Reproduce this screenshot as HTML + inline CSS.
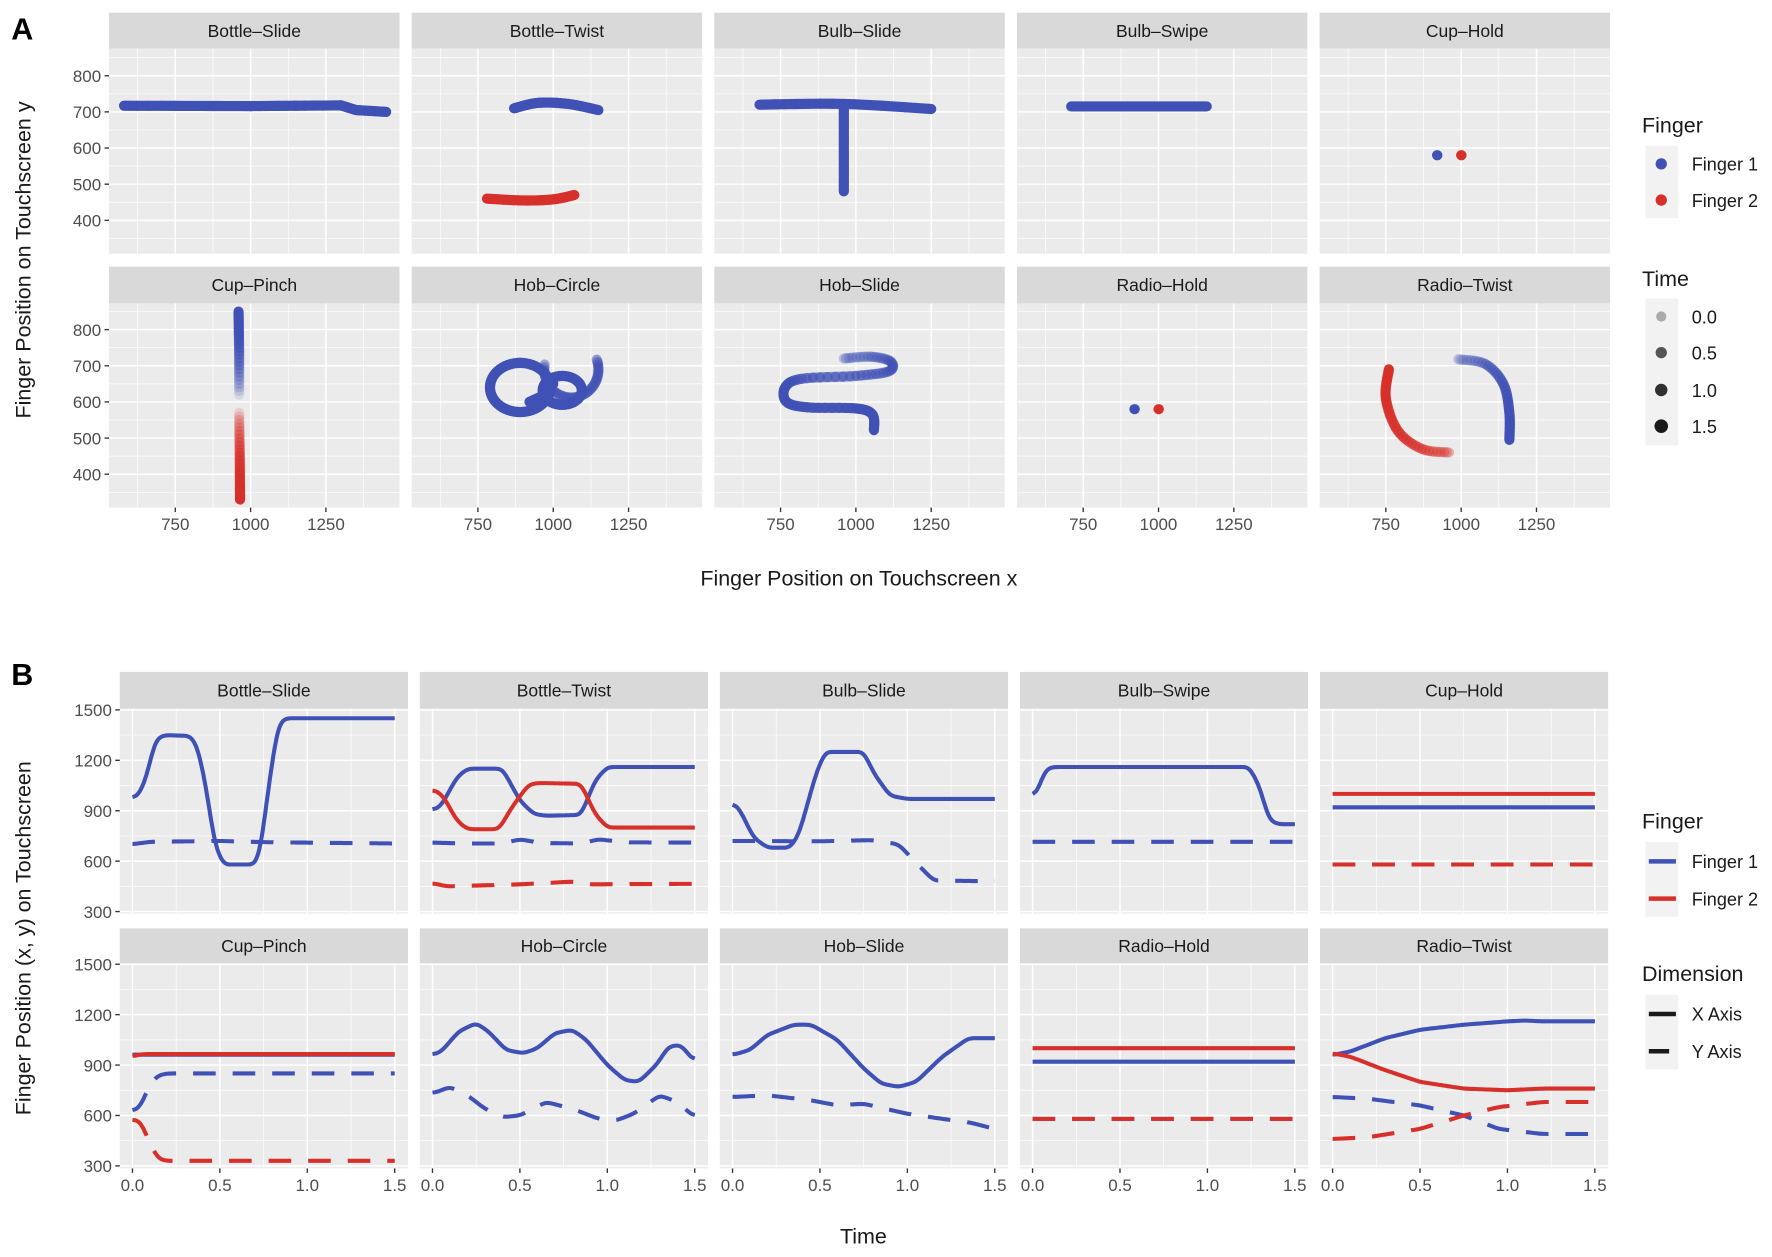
<!DOCTYPE html>
<html><head><meta charset="utf-8"><style>
html,body{margin:0;padding:0;background:#fff;}
svg{display:block;}
text{font-family:"Liberation Sans",Arial,sans-serif;}
</style></head><body>
<svg id="s" width="1772" height="1257" viewBox="0 0 1568 1112" preserveAspectRatio="none" xmlns="http://www.w3.org/2000/svg">
<rect x="0" y="0" width="1568" height="1112" fill="#fff"/>
<text x="10" y="35" font-size="27" font-weight="bold" fill="#000">A</text>
<text x="10" y="606" font-size="27" font-weight="bold" fill="#000">B</text>
<text x="760" y="518" font-size="19" fill="#1a1a1a" text-anchor="middle">Finger Position on Touchscreen x</text>
<text transform="translate(27,230) rotate(-90)" font-size="19" fill="#1a1a1a" text-anchor="middle">Finger Position on Touchscreen y</text>
<text x="764" y="1100" font-size="19" fill="#1a1a1a" text-anchor="middle">Time</text>
<text transform="translate(27,830) rotate(-90)" font-size="19" fill="#1a1a1a" text-anchor="middle">Finger Position (x, y) on Touchscreen</text>
<g id="g"></g>
<!-- Legend A -->
<text x="1453" y="117" font-size="19" fill="#1a1a1a">Finger</text>
<rect x="1456" y="129" width="29" height="64" fill="#f2f2f2"/>
<circle cx="1470" cy="145" r="5" fill="#4051b5"/>
<circle cx="1470" cy="177" r="5" fill="#d7302a"/>
<text x="1497" y="151" font-size="16" fill="#1a1a1a">Finger 1</text>
<text x="1497" y="183" font-size="16" fill="#1a1a1a">Finger 2</text>
<text x="1453" y="253" font-size="19" fill="#1a1a1a">Time</text>
<rect x="1456" y="264" width="29" height="130" fill="#f2f2f2"/>
<circle cx="1470" cy="280" r="4.5" fill="#aaaaaa"/>
<circle cx="1470" cy="312" r="5" fill="#555555"/>
<circle cx="1470" cy="345" r="5.5" fill="#303030"/>
<circle cx="1470" cy="377" r="6" fill="#1a1a1a"/>
<text x="1497" y="286" font-size="16" fill="#1a1a1a">0.0</text>
<text x="1497" y="318" font-size="16" fill="#1a1a1a">0.5</text>
<text x="1497" y="351" font-size="16" fill="#1a1a1a">1.0</text>
<text x="1497" y="383" font-size="16" fill="#1a1a1a">1.5</text>
<!-- Legend B -->
<text x="1453" y="733" font-size="19" fill="#1a1a1a">Finger</text>
<rect x="1456" y="745" width="29" height="66" fill="#f2f2f2"/>
<line x1="1459" y1="762" x2="1483" y2="762" stroke="#4051b5" stroke-width="4"/>
<line x1="1459" y1="795" x2="1483" y2="795" stroke="#d7302a" stroke-width="4"/>
<text x="1497" y="768" font-size="16" fill="#1a1a1a">Finger 1</text>
<text x="1497" y="801" font-size="16" fill="#1a1a1a">Finger 2</text>
<text x="1453" y="868" font-size="19" fill="#1a1a1a">Dimension</text>
<rect x="1456" y="880" width="29" height="66" fill="#f2f2f2"/>
<line x1="1459" y1="897" x2="1483" y2="897" stroke="#1a1a1a" stroke-width="4"/>
<line x1="1459" y1="930" x2="1477" y2="930" stroke="#1a1a1a" stroke-width="4"/>
<text x="1497" y="903" font-size="16" fill="#1a1a1a">X Axis</text>
<text x="1497" y="936" font-size="16" fill="#1a1a1a">Y Axis</text>
</svg>
<script>
var NS="http://www.w3.org/2000/svg",G=document.getElementById("g");
var BLUE="#4051b5",RED="#d7302a";
function el(t,a,txt){var e=document.createElementNS(NS,t);for(var k in a)e.setAttribute(k,a[k]);if(txt!==undefined)e.textContent=txt;G.appendChild(e);return e;}
var names=["Bottle\u2013Slide","Bottle\u2013Twist","Bulb\u2013Slide","Bulb\u2013Swipe","Cup\u2013Hold","Cup\u2013Pinch","Hob\u2013Circle","Hob\u2013Slide","Radio\u2013Hold","Radio\u2013Twist"];
function frame(L,stripTop,stripBot,panBot,W,xmaj,xmin,ymaj,ymin,fx,fy,showY,showX,name,ylabfmt,xlabfmt){
 el("rect",{x:L,y:stripTop,width:W,height:stripBot-stripTop,fill:"#d9d9d9"});
 el("text",{x:L+W/2,y:(stripTop+stripBot)/2+5.5,"font-size":15.5,fill:"#1a1a1a","text-anchor":"middle"},name);
 el("rect",{x:L,y:stripBot,width:W,height:panBot-stripBot,fill:"#ebebeb"});
 xmin.forEach(function(v){var x=fx(v);el("line",{x1:x,y1:stripBot,x2:x,y2:panBot,stroke:"#fff","stroke-width":0.6});});
 ymin.forEach(function(v){var y=fy(v);el("line",{x1:L,y1:y,x2:L+W,y2:y,stroke:"#fff","stroke-width":0.6});});
 xmaj.forEach(function(v){var x=fx(v);el("line",{x1:x,y1:stripBot,x2:x,y2:panBot,stroke:"#fff","stroke-width":1.3});
   if(showX){el("line",{x1:x,y1:panBot,x2:x,y2:panBot+4,stroke:"#333","stroke-width":1.2});
   el("text",{x:x,y:panBot+20,"font-size":15,fill:"#4d4d4d","text-anchor":"middle"},xlabfmt(v));}});
 ymaj.forEach(function(v){var y=fy(v);el("line",{x1:L,y1:y,x2:L+W,y2:y,stroke:"#fff","stroke-width":1.3});
   if(showY){el("line",{x1:L-4,y1:y,x2:L,y2:y,stroke:"#333","stroke-width":1.2});
   el("text",{x:L-7,y:y+5.5,"font-size":15,fill:"#4d4d4d","text-anchor":"end"},ylabfmt(v));}});
}
var AL=96.5,AP=267.8,AW=257;
var Arows=[{st:11.2,sb:43,pb:224.4,y800:67},{st:235.9,sb:268.4,pb:449,y800:291.6}];
function catmull(pts,n){var out=[];for(var i=0;i<pts.length-1;i++){var p0=pts[Math.max(0,i-1)],p1=pts[i],p2=pts[i+1],p3=pts[Math.min(pts.length-1,i+2)];
 for(var k=0;k<n;k++){var t=k/n,t2=t*t,t3=t2*t;out.push([0,1].map(function(j){return 0.5*((2*p1[j])+(-p0[j]+p2[j])*t+(2*p0[j]-5*p1[j]+4*p2[j]-p3[j])*t2+(-p0[j]+3*p1[j]-3*p2[j]+p3[j])*t3);}));}}
 out.push(pts[pts.length-1]);return out;}
function lin(pts,n){var o=[];for(var i=0;i<pts.length-1;i++)for(var k=0;k<n;k++){var t=k/n;o.push([pts[i][0]+(pts[i+1][0]-pts[i][0])*t,pts[i][1]+(pts[i+1][1]-pts[i][1])*t]);}o.push(pts[pts.length-1]);return o;}
function ell(cx,cy,rx,ry,a0,a1,n){var o=[];for(var i=0;i<=n;i++){var a=(a0+(a1-a0)*i/n)*Math.PI/180;o.push([cx+rx*Math.cos(a),cy+ry*Math.sin(a)]);}return o;}
var A=[
 [[BLUE,lin([[580,717],[1000,716],[1300,718],[1350,705],[1450,700]],10),1,1]],
 [[BLUE,catmull([[870,710],[950,725],[1050,722],[1150,705]],8),1,1],[RED,catmull([[780,460],[900,455],[1000,458],[1070,470]],8),1,1]],
 [[BLUE,catmull([[680,720],[960,722],[1250,708]],8),1,1],[BLUE,[[960,722],[960,480]],1,1]],
 [[BLUE,[[710,715],[1160,715]],1,1]],
 [[BLUE,[[920,580],[921,580]],1,1],[RED,[[1000,580],[1001,580]],1,1]],
 [[BLUE,lin([[960,850],[962,740],[962,620]],12),1,0.12],[RED,lin([[962,570],[964,450],[965,330]],12),0.15,1]],
 [[BLUE,ell(1060,690,90,78,170,380,40),0.45,0.55],[BLUE,ell(890,640,100,68,0,360,60),1,1],[BLUE,ell(1030,632,65,40,0,360,40),1,1],[BLUE,[[921,600],[960,615],[1000,650]],1,1]],
 [[BLUE,catmull([[960,720],[1050,725],[1115,712],[1110,685],[1000,672],[820,664],[765,640],[770,600],[840,585],[1000,582],[1055,565],[1060,522]],8),0.3,1]],
 [[BLUE,[[920,580],[921,580]],1,1],[RED,[[1000,580],[1001,580]],1,1]],
 [[BLUE,catmull([[990,718],[1080,705],[1140,650],[1160,570],[1160,495]],8),0.25,1],[RED,catmull([[760,690],[750,610],[790,520],[870,470],[960,460]],8),1,0.3]]
];
for(var i=0;i<10;i++){
 var r=Arows[Math.floor(i/5)],c=i%5,L=AL+c*AP;
 (function(L,r){
 var fx=function(v){return L+58.6+(v-750)*0.2666;},fy=function(v){return r.y800+(800-v)*0.3198;};
 frame(L,r.st,r.sb,r.pb,AW,[750,1000,1250],[625,875,1125,1375],[400,500,600,700,800],[350,450,550,650,750,850],fx,fy,c==0,i>=5,names[i],function(v){return ""+v;},function(v){return ""+v;});
 A[i].forEach(function(tr){var pts=tr[1],n=pts.length;
  for(var k=0;k<n-1;k++){var a=tr[2]+(tr[3]-tr[2])*k/Math.max(1,n-2);
   el("line",{x1:fx(pts[k][0]),y1:fy(pts[k][1]),x2:fx(pts[k+1][0]),y2:fy(pts[k+1][1]),stroke:tr[0],"stroke-width":9,"stroke-linecap":"round","stroke-opacity":a});}});
 })(L,r);
}
// smoothing for time series: linear resample + box filter (no overshoot)
function smooth(pts){
 var dt=0.005,N=Math.round(1.5/dt),v=[];
 for(var i=0;i<=N;i++){var t=i*dt,j=0;while(j<pts.length-2&&pts[j+1][0]<t)j++;
  var a=pts[j],b=pts[j+1],u=(b[0]-a[0])?Math.min(1,Math.max(0,(t-a[0])/(b[0]-a[0]))):0;v.push(a[1]+(b[1]-a[1])*u);}
 for(var pass=0;pass<2;pass++){var w=[];for(var i=0;i<=N;i++){var s=0,c=0;for(var k=-4;k<=4;k++){var q=i+k;if(q>=0&&q<=N){s+=v[q];c++;}}w.push(s/c);}v=w;}
 return v.map(function(y,i){return [i*dt,y];});
}
function h(v){return [[0,v],[1.5,v]];}
var B=[
 [[BLUE,0,[[0,970],[0.04,1000],[0.08,1100],[0.13,1320],[0.18,1350],[0.33,1345],[0.37,1290],[0.42,1050],[0.47,700],[0.52,580],[0.7,580],[0.73,650],[0.78,1050],[0.83,1400],[0.87,1450],[1.5,1450]]],
  [BLUE,1,[[0,700],[0.1,715],[0.5,720],[0.8,712],[1.5,705]]]],
 [[BLUE,0,[[0,900],[0.05,930],[0.14,1100],[0.2,1150],[0.4,1150],[0.5,960],[0.58,880],[0.65,870],[0.85,875],[0.93,1080],[1.0,1160],[1.5,1160]]],
  [RED,0,[[0,1030],[0.06,990],[0.14,840],[0.2,790],[0.38,790],[0.46,930],[0.55,1055],[0.6,1065],[0.85,1060],[0.93,880],[1.0,800],[1.5,800]]],
  [BLUE,1,[[0,710],[0.2,705],[0.4,705],[0.5,730],[0.62,708],[0.85,705],[0.95,730],[1.1,712],[1.5,710]]],
  [RED,1,[[0,470],[0.08,450],[0.5,462],[0.8,478],[0.9,462],[1.5,465]]]],
 [[BLUE,0,[[0,950],[0.04,910],[0.12,740],[0.2,680],[0.33,680],[0.38,760],[0.48,1130],[0.53,1250],[0.75,1250],[0.81,1120],[0.9,990],[1.0,970],[1.5,970]]],
  [BLUE,1,[[0,720],[0.5,718],[0.8,725],[0.95,700],[1.05,590],[1.15,485],[1.5,480]]]],
 [[BLUE,0,[[0,980],[0.03,1020],[0.07,1140],[0.11,1160],[1.24,1160],[1.3,1040],[1.35,850],[1.4,820],[1.5,820]]],
  [BLUE,1,h(715)]],
 [[BLUE,0,h(920)],[RED,0,h(1000)],[BLUE,1,h(580)],[RED,1,h(580)]],
 [[BLUE,0,h(962)],[RED,0,[[0,950],[0.05,965],[1.5,965]]],
  [BLUE,1,[[0,620],[0.05,660],[0.1,790],[0.15,840],[0.2,850],[1.5,850]]],
  [RED,1,[[0,580],[0.05,560],[0.1,430],[0.15,340],[0.2,330],[1.5,330]]]],
 [[BLUE,0,[[0,960],[0.05,980],[0.15,1100],[0.25,1150],[0.32,1100],[0.42,990],[0.52,970],[0.6,1000],[0.7,1090],[0.8,1110],[0.88,1050],[1.0,900],[1.1,810],[1.18,800],[1.28,900],[1.35,1010],[1.42,1020],[1.5,920]]],
  [BLUE,1,[[0,730],[0.1,770],[0.2,720],[0.3,640],[0.4,590],[0.5,600],[0.65,680],[0.8,640],[0.95,580],[1.05,570],[1.15,610],[1.3,720],[1.4,680],[1.5,590]]]],
 [[BLUE,0,[[0,960],[0.1,990],[0.2,1080],[0.35,1140],[0.45,1140],[0.6,1050],[0.75,880],[0.85,790],[0.95,770],[1.05,800],[1.2,950],[1.35,1060],[1.5,1060]]],
  [BLUE,1,[[0,710],[0.2,720],[0.45,690],[0.6,660],[0.75,670],[1.0,610],[1.2,580],[1.35,560],[1.5,520]]]],
 [[BLUE,0,h(920)],[RED,0,h(1000)],[BLUE,1,h(580)],[RED,1,h(580)]],
 [[BLUE,0,[[0,960],[0.1,980],[0.3,1060],[0.5,1110],[0.75,1140],[1.0,1160],[1.1,1165],[1.2,1160],[1.5,1160]]],
  [RED,0,[[0,970],[0.1,950],[0.3,870],[0.5,800],[0.75,760],[1.0,750],[1.2,760],[1.5,760]]],
  [BLUE,1,[[0,710],[0.2,700],[0.5,660],[0.75,600],[0.95,520],[1.2,490],[1.5,490]]],
  [RED,1,[[0,460],[0.2,470],[0.5,520],[0.75,600],[0.95,650],[1.2,680],[1.5,680]]]]
];
var BL=106,BP=265.5,BW=255;
var Brows=[{st:594.4,sb:627,pb:808.2,y1500:628},{st:821.3,sb:852.3,pb:1033.6,y1500:853}];
for(var i=0;i<10;i++){
 var r=Brows[Math.floor(i/5)],c=i%5,L=BL+c*BP;
 (function(L,r){
 var fx=function(t){return L+11.2+t*154.7;},fy=function(v){return r.y1500+(1500-v)*0.14867;};
 frame(L,r.st,r.sb,r.pb,BW,[0,0.5,1,1.5],[0.25,0.75,1.25],[300,600,900,1200,1500],[450,750,1050,1350],fx,fy,c==0,i>=5,names[i],function(v){return ""+v;},function(v){return v.toFixed(1);});
 var order=B[i].slice().sort(function(a,b){return b[1]-a[1];});
 order.forEach(function(tr){var pts=tr[2].length>2?smooth(tr[2]):tr[2];
  var d=pts.map(function(p,k){return (k?"L":"M")+fx(p[0]).toFixed(1)+","+fy(p[1]).toFixed(1);}).join("");
  var a={d:d,fill:"none",stroke:tr[0],"stroke-width":3.6,"stroke-linejoin":"round"};
  if(tr[1])a["stroke-dasharray"]="20 15";
  el("path",a);});
 })(L,r);
}
</script>
</body></html>
